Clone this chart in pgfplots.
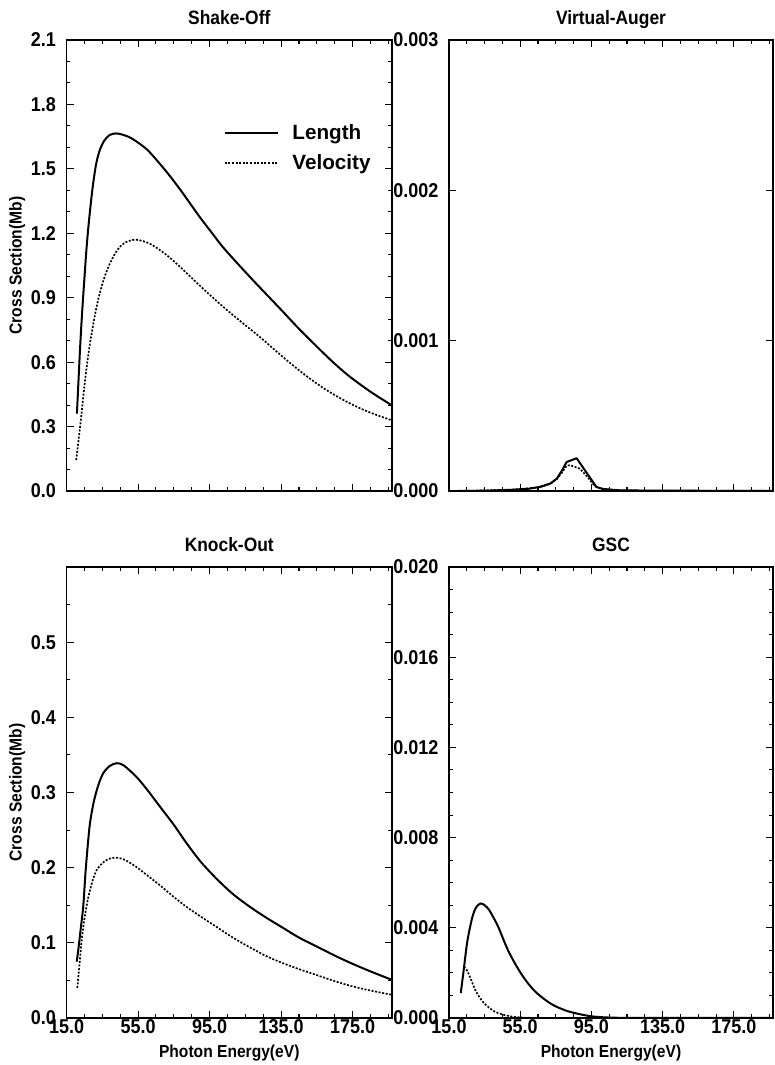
\documentclass[border=0pt]{standalone}
\usepackage{fontspec}
\setmainfont{Liberation Sans}[FakeStretch=0.9]
\newfontfamily\legfont{Liberation Sans}
\usepackage{pgfplots}
\pgfplotsset{compat=1.18}
\begin{document}
\begin{tikzpicture}
\useasboundingbox (0pt,0pt) rectangle (581.25pt,798.75pt);
\pgfplotsset{
  every axis/.append style={
    scale only axis,
    anchor=south west,
    xmin=15, xmax=197,
    xtick={15,55,95,135,175},
    minor xtick={15,25,...,195},
    tick align=inside,
    major tick length=5.5pt, minor tick length=2.8pt,
    axis line style={line width=0.9pt},
    tick style={line width=0.8pt, black},
    tick label style={font=\fontsize{15}{15}\selectfont\bfseries},
    /pgf/number format/assume math mode=true,
    xticklabel style={/pgf/number format/fixed, /pgf/number format/fixed zerofill, /pgf/number format/precision=1, anchor=center, yshift=-6.6pt},
    yticklabel style={anchor=east, inner sep=0pt, xshift=-7.8pt},
    scaled y ticks=false, scaled x ticks=false,
    label style={font=\fontsize{13}{13}\selectfont\bfseries},
    xlabel style={at={(axis description cs:0.5,0)}, anchor=center, yshift=-26.25pt},
    ylabel style={at={(axis description cs:-0.152,0.5)}, anchor=center},
  },
  paneltitle/.style={extra description/.code={
    \node[font=\fontsize{14.5}{15}\selectfont\bfseries, anchor=base, yshift=11.8pt, inner sep=0pt]
      at (axis description cs:0.5,1) {#1};}},
}
\tikzset{
  lenline/.style={black, line width=1.5pt, line join=round},
  velline/.style={black, line width=1.25pt, dash pattern=on 1.5pt off 1.2pt},
}
% ---------------- Shake-Off ----------------
\begin{axis}[at={(49.9pt,430.5pt)}, width=244.1pt, height=338.25pt,
  ymin=0, ymax=2.1,
  ytick={0,0.3,0.6,0.9,1.2,1.5,1.8,2.1},
  minor ytick={0.1,0.2,0.4,0.5,0.7,0.8,1.0,1.1,1.3,1.4,1.6,1.7,1.9,2.0},
  yticklabel style={/pgf/number format/fixed, /pgf/number format/fixed zerofill, /pgf/number format/precision=1},
  xticklabels={},
  paneltitle={Shake-Off},
  ylabel={Cross Section(Mb)},
  legend style={at={(axis description cs:0.47,0.825)}, anchor=north west, draw=none, fill=none,
    font=\legfont\fontsize{15.5}{16}\selectfont\bfseries, row sep=6pt, cells={anchor=west},
    /tikz/every odd column/.append style={column sep=8pt}},
  legend image code/.code={\draw[#1] (0pt,0pt) -- (40pt,0pt);},
]
\addplot[lenline, smooth] coordinates {
(20.8,0.36)(21.5,0.48)(22.3,0.62)(23.2,0.76)(24.1,0.88)(25.0,0.99)(26.0,1.11)(27.0,1.21)
(28.2,1.31)(29.7,1.42)(31.5,1.52)(33.5,1.585)(36.0,1.63)(39.0,1.657)(42.5,1.665)(46.0,1.660)
(50.0,1.648)(54.0,1.628)(60.0,1.590)(66.0,1.535)(72.0,1.475)(78.0,1.410)(84.0,1.340)(90.0,1.270)
(96.0,1.205)(102.0,1.140)(110.0,1.065)(120.0,0.975)(128.0,0.905)(136.0,0.835)(145.0,0.755)
(155.0,0.672)(164.0,0.600)(173.0,0.535)(185.0,0.462)(196.7,0.400)
};
\addlegendentry{Length}
\addplot[velline, smooth] coordinates {
(20.4,0.144)(21.5,0.22)(23.2,0.346)(24.5,0.45)(26.0,0.56)(27.8,0.67)(29.7,0.765)(31.5,0.845)
(33.4,0.915)(36.0,0.990)(39.0,1.055)(42.0,1.103)(44.6,1.135)(48.0,1.158)(53.0,1.170)(58.0,1.163)
(63.0,1.145)(70.0,1.105)(77.0,1.055)(84.0,1.000)(92.0,0.937)(102.0,0.862)(112.0,0.792)
(123.0,0.718)(131.0,0.660)(140.0,0.596)(150.0,0.530)(160.0,0.472)(170.0,0.423)(180.0,0.382)
(188.0,0.355)(196.7,0.330)
};
\addlegendentry{Velocity}
\end{axis}
% ---------------- Virtual-Auger ----------------
\begin{axis}[at={(336.75pt,430.5pt)}, width=243pt, height=338.25pt,
  ymin=0, ymax=0.003,
  ytick={0,0.001,0.002,0.003},
  yticklabel style={/pgf/number format/fixed, /pgf/number format/fixed zerofill, /pgf/number format/precision=3},
  xticklabels={},
  paneltitle={Virtual-Auger},
]
\addplot[lenline] coordinates {
(20,0)(35,0.000002)(50,0.000008)(60,0.000015)(66,0.000027)(72,0.00005)(75.6,0.000083)(78.3,0.000133)
(81.1,0.000193)(86.7,0.000218)(92.2,0.000123)(97.8,0.000027)(101.4,0.000014)(110,0.000005)(130,0.000002)(197,0.000001)
};
\addplot[velline] coordinates {
(20,0)(50,0.000008)(66,0.000025)(72,0.000048)(75.6,0.00008)(78.3,0.00012)(81.1,0.000168)(83,0.000172)
(88.5,0.000149)(93.1,0.000089)(96.8,0.000033)(101,0.00001)(110,0.000003)(197,0.000001)
};
\end{axis}
% ---------------- Knock-Out ----------------
\begin{axis}[at={(49.9pt,35.25pt)}, width=244.1pt, height=338.25pt,
  ymin=0, ymax=0.6,
  ytick={0,0.1,0.2,0.3,0.4,0.5},
  minor ytick={0.05,0.15,0.25,0.35,0.45,0.55},
  yticklabel style={/pgf/number format/fixed, /pgf/number format/fixed zerofill, /pgf/number format/precision=1},
  paneltitle={Knock-Out},
  ylabel={Cross Section(Mb)},
  xlabel={Photon Energy(eV)},
]
\addplot[lenline, smooth] coordinates {
(20.7,0.075)(21.8,0.095)(23.0,0.120)(24.4,0.150)(25.5,0.190)(26.8,0.228)(28.1,0.259)(30.0,0.285)
(31.9,0.303)(33.7,0.316)(35.6,0.326)(39.0,0.335)(43.0,0.339)(47.0,0.336)(54.0,0.321)(60.0,0.304)
(67.0,0.282)(75.0,0.257)(82.0,0.233)(90.0,0.208)(99.0,0.185)(108.0,0.165)(117.5,0.148)(127.0,0.133)
(136.0,0.120)(145.0,0.107)(155.0,0.095)(165.0,0.083)(175.0,0.072)(186.0,0.061)(196.7,0.051)
};
\addplot[velline, smooth] coordinates {
(21.0,0.040)(22.2,0.070)(23.5,0.104)(25.2,0.135)(27.2,0.161)(29.5,0.182)(31.9,0.197)(35.0,0.206)
(38.0,0.211)(41.0,0.213)(44.0,0.213)(48.0,0.210)(54.0,0.201)(60.0,0.190)(67.0,0.177)(75.0,0.161)
(82.0,0.148)(90.0,0.135)(99.0,0.121)(108.0,0.107)(117.5,0.094)(127.0,0.082)(136.0,0.073)(145.0,0.065)
(155.0,0.057)(165.0,0.049)(175.0,0.042)(186.0,0.036)(196.7,0.031)
};
\end{axis}
% ---------------- GSC ----------------
\begin{axis}[at={(336.75pt,35.25pt)}, width=243pt, height=338.25pt,
  ymin=0, ymax=0.02,
  ytick={0,0.004,0.008,0.012,0.016,0.020},
  minor ytick={0.001,0.002,0.003,0.005,0.006,0.007,0.009,0.010,0.011,0.013,0.014,0.015,0.017,0.018,0.019},
  yticklabel style={/pgf/number format/fixed, /pgf/number format/fixed zerofill, /pgf/number format/precision=3},
  paneltitle={GSC},
  xlabel={Photon Energy(eV)},
]
\addplot[lenline, smooth] coordinates {
(21.6,0.00111)(22.5,0.00165)(23.4,0.00222)(25.3,0.00340)(28.0,0.00444)(30.2,0.00490)(32.7,0.00508)
(35.0,0.00500)(37.3,0.00482)(40.0,0.00445)(42.9,0.00400)(48.4,0.00296)(55.8,0.00193)(63.2,0.00119)
(72.5,0.00062)(81.8,0.00030)(92.9,0.00010)(100,0.00004)(110,0.00001)(130,0.000002)(197,0)
};
\addplot[velline, smooth] coordinates {
(23.4,0.00228)(24.8,0.00215)(26.2,0.00193)(28.0,0.00158)(29.9,0.00122)(32.5,0.00088)(35.4,0.00060)
(41.0,0.00027)(48.4,0.00009)(56,0.00002)(65,0.000003)(80,0)
};
\end{axis}
\end{tikzpicture}
\end{document}
